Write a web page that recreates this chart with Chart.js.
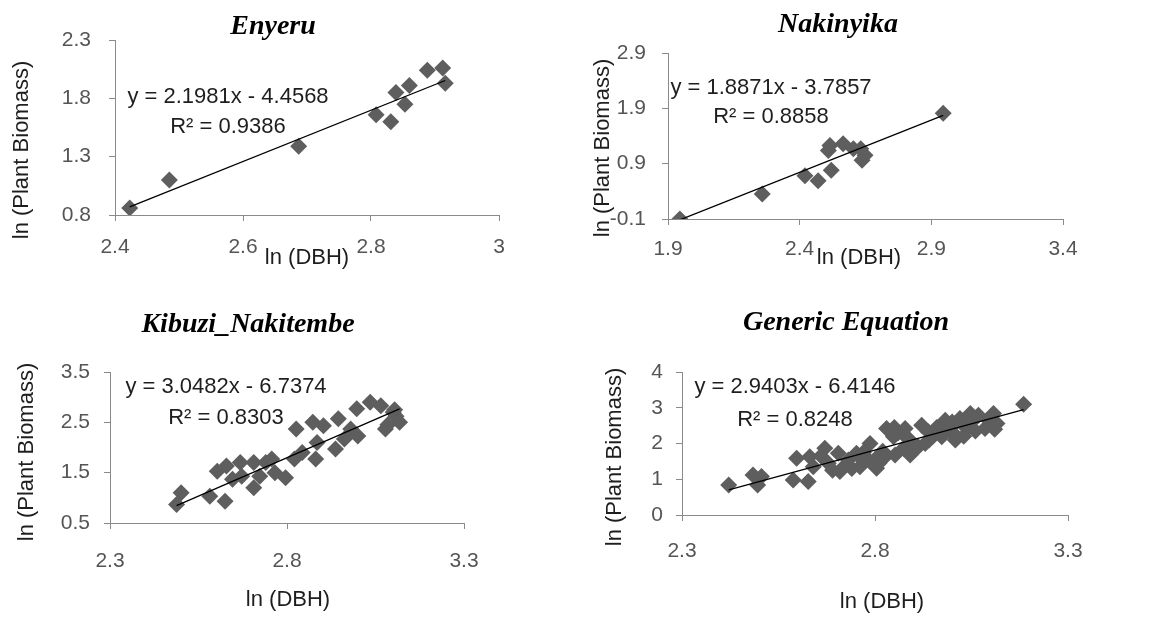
<!DOCTYPE html>
<html>
<head>
<meta charset="utf-8">
<script src="https://cdn.jsdelivr.net/npm/chart.js@4.4.1/dist/chart.umd.min.js"></script>
<style>
  body { margin: 0; background: #fff; width: 1151px; height: 618px; overflow: hidden; position: relative; }
  canvas { position: absolute; }
</style>
</head>
<body>
<canvas id="c1" width="575" height="300" style="left:0;top:0"></canvas>
<canvas id="c2" width="576" height="300" style="left:575px;top:0"></canvas>
<canvas id="c3" width="575" height="318" style="left:0;top:300px"></canvas>
<canvas id="c4" width="576" height="318" style="left:575px;top:300px"></canvas>
<script>
// ---- data ----
const titles = ['Enyeru', 'Nakinyika', 'Kibuzi_Nakitembe', 'Generic Equation'];
const slopes = [2.1981, 1.8871, 3.0482, 2.9403];
const intercepts = [-4.4568, -3.7857, -6.7374, -6.4146];
const rSquared = [0.9386, 0.8858, 0.8303, 0.8248];

const enyeruX = [2.423, 2.485, 2.687, 2.808, 2.831, 2.839, 2.853, 2.860, 2.888, 2.912, 2.916];
const enyeruY = [0.86, 1.10, 1.39, 1.66, 1.60, 1.85, 1.75, 1.91, 2.04, 2.06, 1.93];

const nakinyikaX = [1.945, 2.258, 2.420, 2.470, 2.520, 2.509, 2.515, 2.565, 2.604, 2.632, 2.637, 2.648, 2.945];
const nakinyikaY = [-0.10, 0.35, 0.68, 0.59, 0.78, 1.14, 1.23, 1.26, 1.17, 1.17, 0.96, 1.05, 1.81];

const kibuziX = [2.488, 2.501, 2.582, 2.603, 2.625, 2.629, 2.646, 2.668, 2.672, 2.706, 2.706, 2.723, 2.740,
  2.757, 2.766, 2.796, 2.821, 2.826, 2.843, 2.873, 2.881, 2.885, 2.903, 2.937, 2.945, 2.962, 2.980, 2.997,
  3.000, 3.035, 3.065, 3.078, 3.100, 3.108, 3.118, 3.085, 3.104];
const kibuziY = [0.87, 1.10, 1.03, 1.53, 0.93, 1.63, 1.37, 1.70, 1.43, 1.70, 1.20, 1.43, 1.70,
  1.77, 1.50, 1.40, 1.77, 2.37, 1.90, 2.50, 1.77, 2.10, 2.43, 1.97, 2.57, 2.17, 2.37, 2.77,
  2.23, 2.90, 2.83, 2.37, 2.70, 2.62, 2.50, 2.45, 2.75];

const genericX = [2.421, 2.484, 2.496, 2.506, 2.588, 2.597, 2.627, 2.631, 2.640, 2.660, 2.670, 2.679, 2.690,
  2.705, 2.709, 2.720, 2.731, 2.740, 2.752, 2.760, 2.761, 2.770, 2.783, 2.787, 2.800, 2.804, 2.810, 2.820,
  2.826, 2.830, 2.848, 2.850, 2.852, 2.860, 2.870, 2.874, 2.878, 2.890, 2.891, 2.900, 2.912, 2.921, 2.930,
  2.938, 2.940, 2.950, 2.960, 2.970, 2.973, 2.982, 2.995, 3.000, 3.002, 3.008, 3.020, 3.025, 3.030, 3.042,
  3.047, 3.050, 3.060, 3.068, 3.085, 3.094, 3.100, 3.107, 3.110, 3.116, 3.185];
const genericY = [0.84, 1.12, 0.84, 1.08, 0.98, 1.59, 0.94, 1.63, 1.35, 1.65, 1.87, 1.45, 1.25,
  1.73, 1.22, 1.36, 1.54, 1.30, 1.73, 1.62, 1.35, 1.75, 1.54, 2.00, 1.55, 1.31, 1.45, 1.78,
  1.63, 2.42, 2.19, 2.45, 1.68, 2.30, 2.30, 1.87, 2.42, 2.10, 1.68, 1.80, 1.91, 2.51, 2.00,
  2.33, 2.10, 2.20, 2.45, 2.50, 2.19, 2.65, 2.42, 2.60, 2.30, 2.10, 2.70, 2.56, 2.20, 2.47,
  2.84, 2.60, 2.35, 2.79, 2.42, 2.65, 2.75, 2.84, 2.40, 2.56, 3.10];

// tick values
const enyeruXTicks = [2.4, 2.6, 2.8, 3];
const enyeruYTicks = [0.8, 1.3, 1.8, 2.3];
const nakinyikaXTicks = [1.9, 2.4, 2.9, 3.4];
const nakinyikaYTicks = [-0.1, 0.9, 1.9, 2.9];
const kibuziXTicks = [2.3, 2.8, 3.3];
const kibuziYTicks = [0.5, 1.5, 2.5, 3.5];
const genericXTicks = [2.3, 2.8, 3.3];
const genericYTicks = [0, 1, 2, 3, 4];

// ---- layout (page pixels) ----
const panels = [
  { id: 'c1', xs: enyeruX, ys: enyeruY, xt: enyeruXTicks, yt: enyeruYTicks,
    ox: 0, oy: 0, w: 575, h: 300, l: 115, r: 499, t: 40, b: 215,
    title: [273, 27], yTitle: [22, 150], xTitle: [307, 258], eq: [228, 97, 127], xPad: 14, yPad: 18 },
  { id: 'c2', xs: nakinyikaX, ys: nakinyikaY, xt: nakinyikaXTicks, yt: nakinyikaYTicks,
    ox: 575, oy: 0, w: 576, h: 300, l: 668, r: 1063, t: 53, b: 219,
    title: [838, 25], yTitle: [603, 148], xTitle: [859, 258], eq: [771, 88, 117], xPad: 12, yPad: 16 },
  { id: 'c3', xs: kibuziX, ys: kibuziY, xt: kibuziXTicks, yt: kibuziYTicks,
    ox: 0, oy: 300, w: 575, h: 318, l: 110, r: 464, t: 372, b: 523,
    title: [248, 325], yTitle: [27, 452], xTitle: [288, 600], eq: [226, 387, 418], xPad: 20, yPad: 14 },
  { id: 'c4', xs: genericX, ys: genericY, xt: genericXTicks, yt: genericYTicks,
    ox: 575, oy: 300, w: 576, h: 318, l: 682, r: 1068, t: 372, b: 515,
    title: [846, 323], yTitle: [615, 457], xTitle: [882, 602], eq: [795, 387, 420], xPad: 18, yPad: 13 }
];

const axisGray = '#8a8a8a';
const tickFont = { family: '"Liberation Sans", Arial, sans-serif', size: 21 };
const fmt = v => String(Math.round(v * 10) / 10);

const annotPlugin = {
  id: 'annot',
  afterDraw(chart, args, o) {
    const ctx = chart.ctx;
    const p = o.panel;
    const i = o.index;
    ctx.save();
    ctx.textAlign = 'center';
    ctx.textBaseline = 'middle';
    ctx.fillStyle = '#000';
    ctx.font = 'italic bold 28px "Liberation Serif", "Times New Roman", serif';
    ctx.fillText(titles[i], p.title[0] - p.ox, p.title[1] - p.oy);

    ctx.fillStyle = '#1e1e1e';
    ctx.font = '22px "Liberation Sans", Arial, sans-serif';
    ctx.fillText('ln (DBH)', p.xTitle[0] - p.ox, p.xTitle[1] - p.oy);
    ctx.save();
    ctx.translate(p.yTitle[0] - p.ox, p.yTitle[1] - p.oy);
    ctx.rotate(-Math.PI / 2);
    ctx.fillText('ln (Plant Biomass)', 0, 0);
    ctx.restore();

    const sign = intercepts[i] < 0 ? ' - ' : ' + ';
    const eq1 = 'y = ' + slopes[i].toFixed(4) + 'x' + sign + Math.abs(intercepts[i]).toFixed(4);
    const eq2 = 'R\u00B2 = ' + rSquared[i].toFixed(4);
    ctx.fillText(eq1, p.eq[0] - p.ox, p.eq[1] - p.oy);
    ctx.fillText(eq2, p.eq[0] - p.ox, p.eq[2] - p.oy);
    ctx.restore();
  }
};

panels.forEach((p, i) => {
  const pts = p.xs.map((x, k) => ({ x: x, y: p.ys[k] }));
  const xMin = Math.min(...p.xs);
  const xMax = Math.max(...p.xs);
  const trend = [
    { x: xMin, y: slopes[i] * xMin + intercepts[i] },
    { x: xMax, y: slopes[i] * xMax + intercepts[i] }
  ];
  new Chart(document.getElementById(p.id), {
    type: 'scatter',
    data: {
      datasets: [
        {
          data: pts,
          pointStyle: 'rectRot',
          pointRadius: 8.5,
          pointBackgroundColor: '#5e5e5e',
          pointBorderWidth: 0,
          pointBorderColor: 'rgba(0,0,0,0)',
          order: 2
        },
        {
          type: 'line',
          data: trend,
          borderColor: '#000',
          borderWidth: 1.3,
          pointRadius: 0,
          fill: false,
          order: 1
        }
      ]
    },
    options: {
      responsive: false,
      animation: false,
      layout: { padding: { top: p.t - p.oy, right: p.ox + p.w - p.r, left: 0, bottom: 0 } },
      plugins: {
        legend: { display: false },
        tooltip: { enabled: false },
        annot: { panel: p, index: i }
      },
      scales: {
        x: {
          type: 'linear',
          min: p.xt[0],
          max: p.xt[p.xt.length - 1],
          ticks: { stepSize: p.xt[1] - p.xt[0], color: '#555', font: tickFont, padding: p.xPad,
                   autoSkip: false, maxRotation: 0, callback: fmt },
          grid: { drawOnChartArea: false, drawTicks: true, tickLength: 6, color: axisGray },
          border: { color: axisGray, width: 1 },
          afterFit(s) { s.height = p.oy + p.h - p.b; }
        },
        y: {
          type: 'linear',
          min: p.yt[0],
          max: p.yt[p.yt.length - 1],
          ticks: { stepSize: p.yt[1] - p.yt[0], color: '#555', font: tickFont, padding: p.yPad,
                   callback: fmt },
          grid: { drawOnChartArea: false, drawTicks: true, tickLength: 6, color: axisGray },
          border: { color: axisGray, width: 1 },
          afterFit(s) { s.width = p.l - p.ox; }
        }
      }
    },
    plugins: [annotPlugin]
  });
});
</script>
</body>
</html>
